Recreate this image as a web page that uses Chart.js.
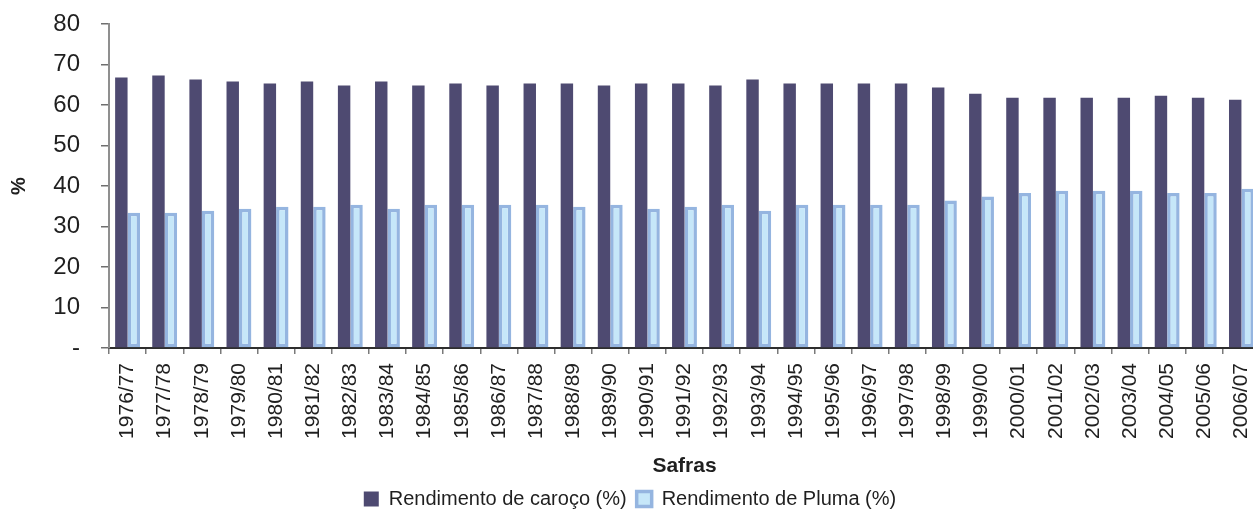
<!DOCTYPE html>
<html lang="pt">
<head>
    <meta charset="UTF-8">
    <title>Rendimento de caroço e pluma</title>
    <script src="https://cdn.jsdelivr.net/npm/chart.js"></script>
    <style>
        html, body { margin: 0; padding: 0; background: #fff; overflow: hidden; }
        #wrap { width: 1260px; height: 519px; position: relative; }
    </style>
</head>
<body>
    <div id="wrap"><canvas id="myChart"></canvas></div>

    <script>
        const safras = [
            '1976/77', '1977/78', '1978/79', '1979/80', '1980/81', '1981/82', '1982/83', '1983/84',
            '1984/85', '1985/86', '1986/87', '1987/88', '1988/89', '1989/90', '1990/91', '1991/92',
            '1992/93', '1993/94', '1994/95', '1995/96', '1996/97', '1997/98', '1998/99', '1999/00',
            '2000/01', '2001/02', '2002/03', '2003/04', '2004/05', '2005/06', '2006/07'
        ];
        const caroco = [
            66.8, 67.3, 66.3, 65.8, 65.3, 65.8, 64.8, 65.8, 64.8, 65.3, 64.8, 65.3, 65.3, 64.8, 65.3, 65.3,
            64.8, 66.3, 65.3, 65.3, 65.3, 65.3, 64.3, 62.8, 61.8, 61.8, 61.8, 61.8, 62.3, 61.8, 61.3
        ];
        const pluma = [
            33.4, 33.4, 33.9, 34.4, 34.9, 34.9, 35.4, 34.4, 35.4, 35.4, 35.4, 35.4, 34.9, 35.4, 34.4, 34.9,
            35.4, 33.9, 35.4, 35.4, 35.4, 35.4, 36.4, 37.4, 38.3, 38.8, 38.8, 38.8, 38.3, 38.3, 39.3
        ];
        const yTicks = [0, 10, 20, 30, 40, 50, 60, 70, 80];

        const txt = '#1f1f1f';
        const font = 'Liberation Sans, Arial, sans-serif';

        new Chart(document.getElementById('myChart'), {
            type: 'bar',
            data: {
                labels: safras,
                datasets: [{
                    label: 'Rendimento de caroço (%)',
                    data: caroco,
                    backgroundColor: '#4e4a71',
                    borderWidth: 0,
                    categoryPercentage: 0.67,
                    barPercentage: 1.0
                }, {
                    label: 'Rendimento de Pluma (%)',
                    data: pluma,
                    backgroundColor: '#c6e7f9',
                    borderColor: '#95b5e0',
                    borderWidth: 3.5,
                    borderSkipped: false,
                    categoryPercentage: 0.67,
                    barPercentage: 1.0
                }]
            },
            options: {
                responsive: true,
                maintainAspectRatio: false,
                animation: false,
                layout: { padding: { top: 24, left: 0, right: 0, bottom: 0 } },
                plugins: {
                    tooltip: { enabled: false },
                    legend: {
                        position: 'bottom',
                        labels: {
                            color: txt,
                            font: { family: font, size: 20 },
                            boxWidth: 15,
                            boxHeight: 15,
                            padding: 10
                        }
                    }
                },
                scales: {
                    x: {
                        // rotated labels fit inside the last category, no side padding needed
                        afterFit: s => { s.height = 131; s.paddingLeft = 0; s.paddingRight = 0; },
                        border: { display: true, color: '#2e2e2e', width: 2 },
                        grid: { display: true, drawOnChartArea: false, drawTicks: true, tickLength: 6, color: '#7a7a7a', lineWidth: 1.5 },
                        ticks: {
                            color: txt,
                            autoSkip: false,
                            minRotation: 90,
                            maxRotation: 90,
                            padding: 9,
                            font: { family: font, size: 21 }
                        },
                        title: {
                            display: true,
                            text: 'Safras',
                            color: txt,
                            padding: { top: 0, bottom: 0 },
                            font: { family: font, size: 21, weight: 'bold', lineHeight: 1.2 }
                        }
                    },
                    y: {
                        min: 0,
                        max: 80,
                        afterFit: s => { s.width = 109; s.paddingTop = 0; s.paddingBottom = 0; },
                        afterBuildTicks: s => { s.ticks = yTicks.map(v => ({ value: v })); },
                        border: { display: true, color: '#8f8f8f', width: 2 },
                        grid: { display: true, drawOnChartArea: false, drawTicks: true, tickLength: 8, color: '#6f6f6f', lineWidth: 1.5 },
                        ticks: {
                            color: txt,
                            padding: 21,
                            font: { family: font, size: 24 },
                            callback: v => v === 0 ? '-' : v
                        },
                        title: {
                            display: true,
                            text: '%',
                            color: txt,
                            padding: { top: 7, bottom: 0 },
                            font: { family: font, size: 20, weight: 'bold', lineHeight: 1.2 }
                        }
                    }
                }
            }
        });
    </script>
</body>
</html>
